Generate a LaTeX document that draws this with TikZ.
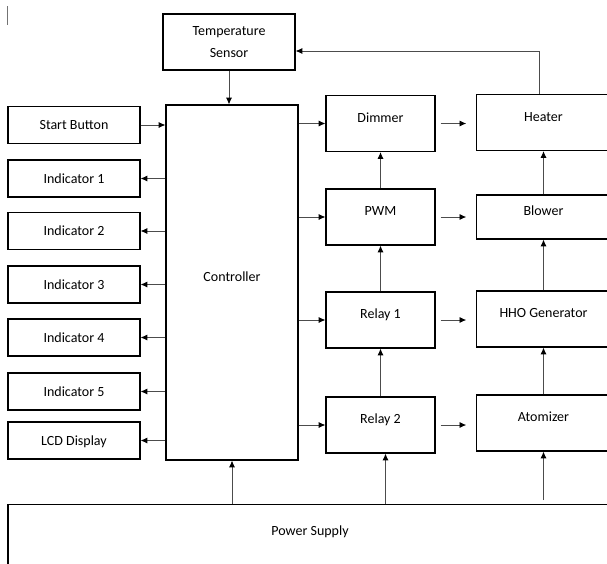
\documentclass[tikz,border=0pt]{standalone}
\usepackage{fontspec}
\setsansfont{Carlito}
\usetikzlibrary{arrows.meta,calc}
\begin{document}
\begin{tikzpicture}[x=0.75pt, y=-0.75pt, font=\sffamily\fontsize{10.5}{12.6}\selectfont,
    >={Latex[length=5pt,width=4.5pt,black]},
    blk/.style={draw, line width=0.9pt, inner sep=0pt},
    sidebox/.style={blk, text height=7pt, text depth=0pt, minimum width=99pt, minimum height=27.75pt},
    unitbox/.style={blk, text height=7pt, text depth=9pt, minimum width=81.75pt, minimum height=42pt},
    loadbox/.style={unitbox, minimum width=100pt},
    link/.style={->, line width=0.6pt, draw=black!70},
    gap/.style={link, shorten <=3.75pt, shorten >=7.5pt}]
    % pixel grid of the 607x564 sheet, y axis pointing down; right column and supply run off the sheet
    \useasboundingbox (0,0) rectangle (607,564);
    \clip (0,0) rectangle (607,564);
    \draw[black!55, line width=0.5pt] (7,6) -- (7,25);
    \node[blk, align=center, minimum width=99pt, minimum height=42pt] (temp) at (229,42) {Temperature\\[4.5pt]Sensor};
    \node[unitbox, minimum width=99pt, minimum height=266.25pt] (ctrl) at (232,282.5) {Controller};
    \node[sidebox] (start) at (74,125) {Start Button};
    \node[sidebox] (ind1) at (74,178.5) {Indicator 1};
    \node[sidebox] (ind2) at (74,231) {Indicator 2};
    \node[sidebox] (ind3) at (74,284.5) {Indicator 3};
    \node[sidebox] (ind4) at (74,337.5) {Indicator 4};
    \node[sidebox] (ind5) at (74,391.5) {Indicator 5};
    \node[sidebox] (lcd) at (74,440.5) {LCD Display};
    \node[unitbox] (dim) at (380.5,123.5) {Dimmer};
    \node[unitbox] (pwm) at (380.5,217) {PWM};
    \node[unitbox] (r1) at (380.5,320) {Relay 1};
    \node[unitbox] (r2) at (380.5,425) {Relay 2};
    \node[loadbox] (heat) at (543.5,122.5) {Heater};
    \node[loadbox, minimum height=33pt] (blow) at (543.5,217) {Blower};
    \node[loadbox] (hho) at (543.5,319) {HHO Generator};
    \node[loadbox] (atom) at (543.5,423) {Atomizer};
    \node[blk, anchor=north, minimum width=453pt, inner ysep=15.2pt, text height=8pt, text depth=60pt] (ps) at (310,504) {Power Supply};
    % controller inputs and outputs
    \draw[link] (temp) -- (ctrl.north -| temp);
    \draw[link] (start.east) -- (start.east -| ctrl.west);
    \draw[link] (ctrl.west |- ind1) -- (ind1.east);
    \draw[link] (ctrl.west |- ind2) -- (ind2.east);
    \draw[link] (ctrl.west |- ind3) -- (ind3.east);
    \draw[link] (ctrl.west |- ind4) -- (ind4.east);
    \draw[link] (ctrl.west |- ind5) -- (ind5.east);
    \draw[link] (ctrl.west |- lcd) -- (lcd.east);
    \draw[link] (ctrl.east |- dim) -- (dim.west);
    \draw[link] (ctrl.east |- pwm) -- (pwm.west);
    \draw[link] (ctrl.east |- r1) -- (r1.west);
    \draw[link] (ctrl.east |- r2) -- (r2.west);
    % drive chain
    \draw[link] (r2.north) -- (r1.south);
    \draw[link] (r1.north) -- (pwm.south);
    \draw[link] (pwm.north) -- (dim.south);
    \draw[gap] (dim.east) -- (dim.east -| heat.west);
    \draw[gap] (pwm.east) -- (pwm.east -| blow.west);
    \draw[gap] (r1.east) -- (r1.east -| hho.west);
    \draw[gap] (r2.east) -- (r2.east -| atom.west);
    \draw[link] (atom.north) -- (hho.south);
    \draw[link] (hho.north) -- (blow.south);
    \draw[link] (blow.north) -- (heat.south);
    \draw[link] ($(heat.north)+(-4.5,0)$) |- ($(temp.east)+(0,9)$);
    % supply feeds
    \coordinate (r2feed) at ($(r2.south)+(5,0)$);
    \draw[link] (ps.north -| ctrl.south) -- (ctrl.south);
    \draw[link] (ps.north -| r2feed) -- (r2feed);
    \draw[link, shorten <=3pt] (ps.north -| atom.south) -- (atom.south);
\end{tikzpicture}
\end{document}
